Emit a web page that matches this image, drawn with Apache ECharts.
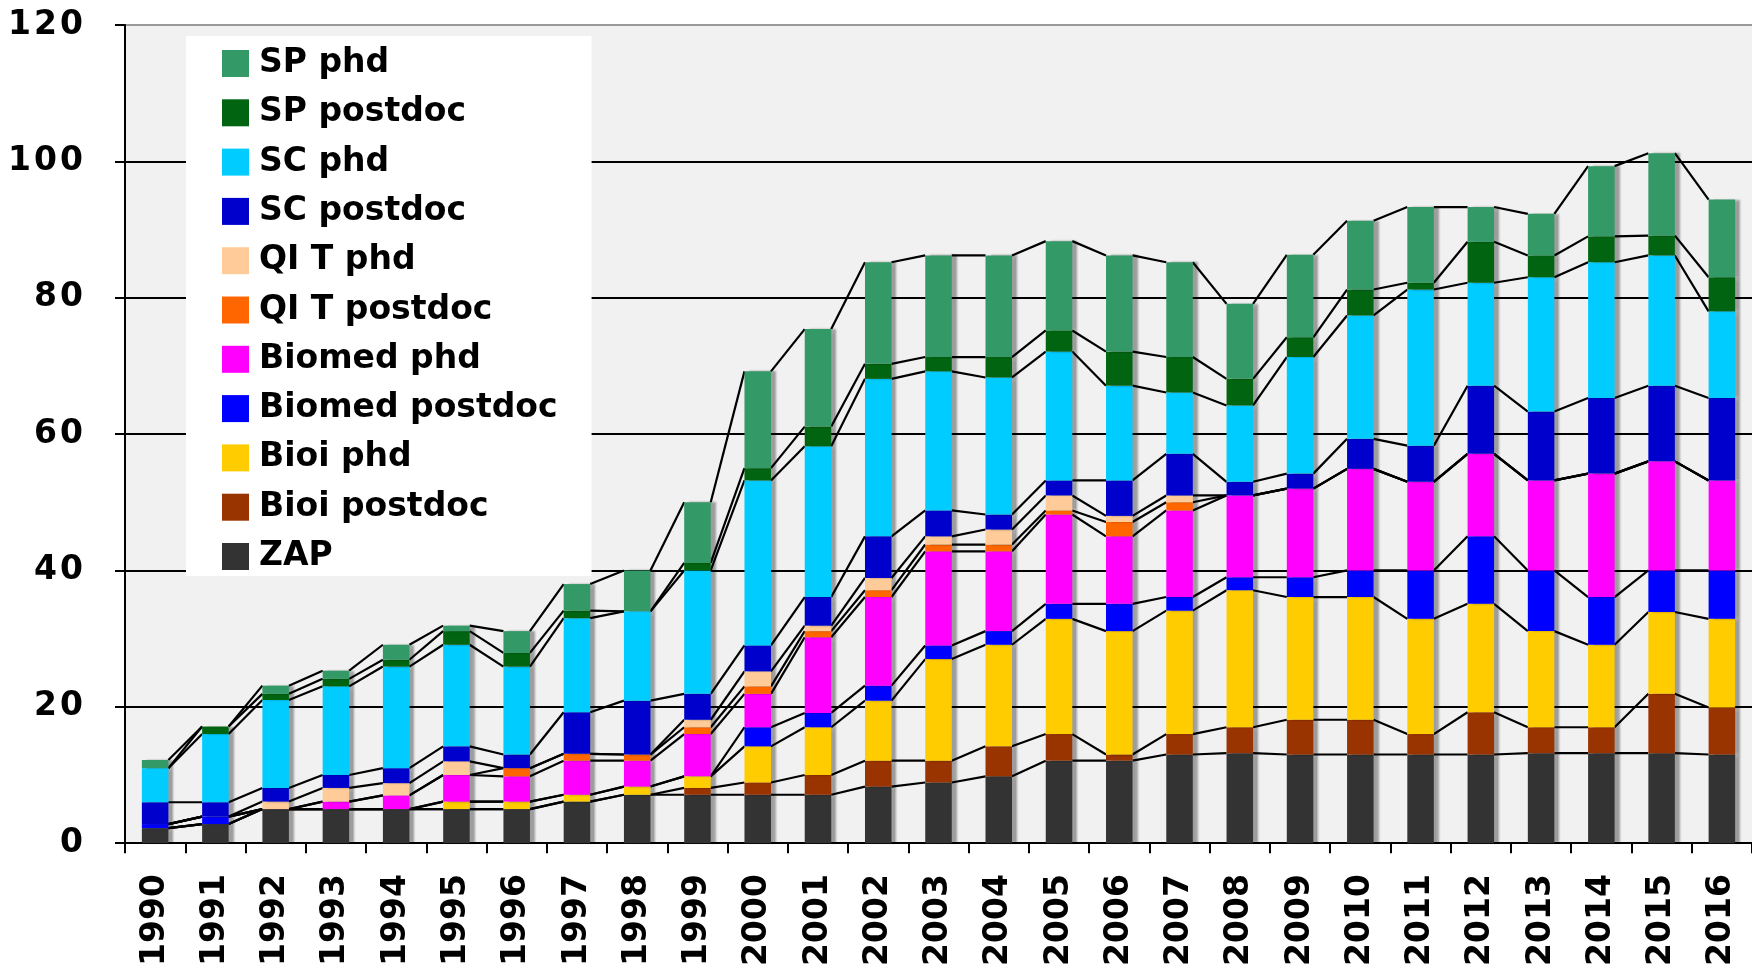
<!DOCTYPE html>
<html>
<head>
<meta charset="utf-8">
<script src="https://cdn.jsdelivr.net/npm/echarts@6.0.0/dist/echarts.min.js"></script>
<style>
  html, body { margin: 0; padding: 0; background: #fff; }
  #chart { width: 1752px; height: 969px; }
</style>
</head>
<body>
<div id="chart"></div>
<script>
// years on the x axis
const years = ['1990', '1991', '1992', '1993', '1994', '1995', '1996', '1997', '1998', '1999',
  '2000', '2001', '2002', '2003', '2004', '2005', '2006', '2007', '2008', '2009',
  '2010', '2011', '2012', '2013', '2014', '2015', '2016'];

// stacked segments, bottom to top
const zap = [2.2, 2.8, 5, 5, 5, 5, 5, 6.1, 7.1, 7.1, 7.1, 7.1, 8.3, 8.9, 9.8, 12.1, 12.1, 13, 13.2, 13, 13, 13, 13, 13.2, 13.2, 13.2, 13];
const bioiPostdoc = [0, 0, 0, 0, 0, 0, 0, 0, 0, 1, 1.8, 2.9, 3.8, 3.2, 4.4, 3.9, 0.9, 3, 3.8, 5.1, 5.1, 3, 6.2, 3.8, 3.8, 8.7, 6.9];
const bioiPhd = [0, 0, 0, 0, 0, 1.1, 1.1, 1, 1.2, 1.7, 5.3, 7, 8.8, 14.9, 14.9, 16.9, 18.1, 18.1, 20.1, 18, 18, 16.9, 15.9, 14.1, 12.1, 12, 13];
const biomedPostdoc = [0.6, 1.1, 0, 0, 0, 0, 0, 0, 0, 0, 2.8, 2.1, 2.2, 2, 2, 2.2, 4, 2, 1.9, 2.9, 3.9, 7.1, 9.9, 8.9, 7, 6.1, 7.1];
const biomedPhd = [0, 0, 0, 1.1, 2, 3.9, 3.7, 5, 3.8, 6.2, 4.9, 11.1, 13, 13.8, 11.7, 13.1, 9.9, 12.7, 12, 13, 14.9, 13, 12.1, 13.2, 18.1, 16, 13.2];
const qitPostdoc = [0, 0, 0, 0, 0, 0, 1.2, 1, 0.9, 1, 1.1, 0.9, 1, 1, 1, 0.6, 2.1, 1.2, 0, 0, 0, 0, 0, 0, 0, 0, 0];
const qitPhd = [0, 0, 1.1, 2, 1.8, 2, 0, 0, 0, 1.1, 2.2, 0.8, 1.8, 1.2, 2.2, 2.2, 0.9, 1, 0, 0, 0, 0, 0, 0, 0, 0, 0];
const scPostdoc = [3.2, 2.1, 2, 1.9, 2.2, 2.2, 2, 6.1, 7.9, 3.8, 3.8, 4.2, 6.1, 3.8, 2.2, 2.2, 5.2, 6.1, 2, 2.2, 4.4, 5.3, 10, 10.1, 11.1, 11.1, 12.1];
const scPhd = [5, 10, 12.9, 13, 14.9, 14.9, 12.9, 13.8, 13.1, 18.1, 24.2, 22.1, 23.1, 20.4, 20.1, 18.9, 13.9, 9, 11.2, 17.1, 18.1, 22.9, 15.1, 19.7, 19.9, 19.1, 12.7];
const spPostdoc = [0, 1.1, 0.9, 1.1, 1, 2, 2, 1.1, 0, 1.1, 1.8, 2.9, 2.2, 2.1, 3, 3.1, 5, 5.2, 3.9, 2.9, 3.8, 1, 6, 3.2, 3.8, 2.9, 5];
const spPhd = [1.2, 0, 1.2, 1.2, 2.2, 0.8, 3.2, 3.9, 6, 8.9, 14.2, 14.3, 14.9, 14.9, 14.9, 13.1, 14.1, 13.9, 11, 12.1, 10.1, 11.1, 5.1, 6.1, 10.3, 12.1, 11.4];

const yTicks = { min: 0, max: 120, interval: 20 };

const layers = [
  { name: 'ZAP', data: zap, color: '#333333' },
  { name: 'Bioi postdoc', data: bioiPostdoc, color: '#993300' },
  { name: 'Bioi phd', data: bioiPhd, color: '#FFCC00' },
  { name: 'Biomed postdoc', data: biomedPostdoc, color: '#0000FF' },
  { name: 'Biomed phd', data: biomedPhd, color: '#FF00FF' },
  { name: 'QI T postdoc', data: qitPostdoc, color: '#FF6600' },
  { name: 'QI T phd', data: qitPhd, color: '#FFCC99' },
  { name: 'SC postdoc', data: scPostdoc, color: '#0000CC' },
  { name: 'SC phd', data: scPhd, color: '#00CCFF' },
  { name: 'SP postdoc', data: spPostdoc, color: '#006411' },
  { name: 'SP phd', data: spPhd, color: '#339966' }
];

const BAR_FRAC = 0.44;
const FONT = 'DejaVu Sans';

// running tops of each layer, used for the series lines between bars
const tops = [];
let run = years.map(() => 0);
layers.forEach(l => {
  run = run.map((v, i) => v + l.data[i]);
  tops.push(run.slice());
});

const chart = echarts.init(document.getElementById('chart'));

// the y tick labels sit on their own canvas layer so they can get the wide tracking of the original
try {
  const labelLayer = chart.getZr().painter.getLayer(2);
  if (labelLayer && labelLayer.ctx && 'letterSpacing' in labelLayer.ctx) {
    labelLayer.ctx.letterSpacing = '3px';
  }
} catch (e) {}

const barSeries = layers.map(l => ({
  name: l.name,
  type: 'bar',
  stack: 'total',
  data: l.data,
  barWidth: (BAR_FRAC * 100) + '%',
  itemStyle: {
    color: l.color,
    shadowColor: 'rgba(0,0,0,0.35)',
    shadowOffsetX: 5,
    shadowBlur: 2
  }
}));

const linkSeries = {
  type: 'custom',
  silent: true,
  data: years.slice(0, -1).map((y, i) => [i]),
  renderItem: function (params, api) {
    const i = api.value(0);
    const half = api.size([1, 0])[0] * BAR_FRAC / 2;
    const children = [];
    for (let k = 0; k < tops.length; k++) {
      const p1 = api.coord([i, tops[k][i]]);
      const p2 = api.coord([i + 1, tops[k][i + 1]]);
      children.push({
        type: 'line',
        shape: { x1: p1[0] + half, y1: p1[1], x2: p2[0] - half, y2: p2[1] },
        style: { stroke: '#000', lineWidth: 2.2 }
      });
    }
    return { type: 'group', children: children };
  }
};

chart.setOption({
  animation: false,
  grid: {
    left: 125, right: 0, top: 25, bottom: 120,
    show: true, backgroundColor: '#F1F1F1', borderWidth: 0
  },
  legend: {
    data: layers.map(l => l.name).reverse(),
    orient: 'vertical',
    left: 186,
    top: 36,
    padding: [11, 34, 3, 36],
    backgroundColor: '#fff',
    itemWidth: 27,
    itemHeight: 27,
    itemGap: 16.3,
    icon: 'rect',
    textStyle: {
      fontFamily: FONT, fontWeight: 'bold', fontSize: 33, lineHeight: 30,
      color: '#000', padding: [0, 0, 0, 5]
    }
  },
  xAxis: {
    type: 'category',
    data: years,
    axisLine: { lineStyle: { color: '#000', width: 2 } },
    axisTick: { show: true, length: 10, interval: 0, lineStyle: { color: '#000', width: 2 } },
    axisLabel: {
      interval: 0, rotate: 90, margin: 31,
      fontFamily: FONT, fontWeight: 'bold', fontSize: 33, color: '#000'
    }
  },
  yAxis: [{
    type: 'value',
    min: yTicks.min, max: yTicks.max, interval: yTicks.interval,
    axisLine: { show: true, lineStyle: { color: '#000', width: 2 } },
    axisTick: { show: true, length: 10, lineStyle: { color: '#000', width: 2 } },
    axisLabel: { show: false },
    splitLine: {
      show: true,
      lineStyle: { color: ['#000', '#000', '#000', '#000', '#000', '#000', '#999'], width: 2 }
    }
  }, {
    // same scale, only the tick labels
    type: 'value',
    position: 'left',
    zlevel: 2,
    min: yTicks.min, max: yTicks.max, interval: yTicks.interval,
    axisLine: { show: false },
    axisTick: { show: false },
    splitLine: { show: false },
    axisLabel: { margin: 39, fontFamily: FONT, fontWeight: 'bold', fontSize: 33, color: '#000' }
  }],
  series: barSeries.concat([linkSeries])
});
</script>
</body>
</html>
